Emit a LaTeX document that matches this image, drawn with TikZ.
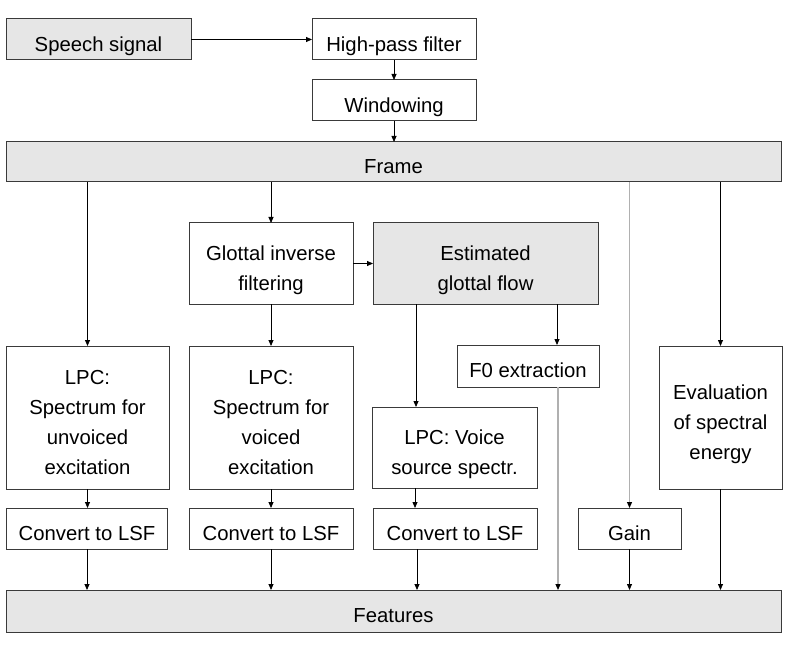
\documentclass[tikz,border=0pt]{standalone}
\usepackage{fontspec}
\setmainfont{Liberation Sans}
\usetikzlibrary{arrows.meta,calc}
\definecolor{boxfill}{HTML}{E6E6E6}
\definecolor{boxline}{HTML}{3A3A3A}
\definecolor{lightline}{HTML}{B0B0B0}
\newcommand\mytopstrut{\rule{0pt}{28.5pt}}
\newcommand\mybotstrut{\rule[-5pt]{0pt}{5pt}}
\begin{document}
\begin{tikzpicture}[x=1pt,y=-1pt,
  box/.style={draw=boxline,line width=1pt,fill=white,rectangle,inner sep=0pt,outer sep=0pt,align=center,
    font=\fontsize{20.3}{30}\selectfont},
  graybox/.style={box,fill=boxfill},
  arr/.style={draw=black,line width=0.8pt,-{Triangle[length=6pt,width=5pt]}},
  garr/.style={draw=lightline,line width=1.2pt,-{Triangle[length=6pt,width=5pt,color=black]}}]
\useasboundingbox (0,0) rectangle (790,647);
% nodes
\node[graybox,minimum width=185pt,minimum height=41pt] (speech) at (98.5,39.5) {\mytopstrut Speech signal\mybotstrut};
\node[box,minimum width=164pt,minimum height=41pt] (hpf) at (394,39.5) {\mytopstrut High-pass filter\mybotstrut};
\node[box,minimum width=164pt,minimum height=41pt] (win) at (394,100.5) {\mytopstrut Windowing\mybotstrut};
\node[graybox,minimum width=775pt,minimum height=40pt] (frame) at (393.5,162) {\mytopstrut Frame\mybotstrut};
\node[box,minimum width=164pt,minimum height=81pt] (glottal) at (271,263.5) {\mytopstrut Glottal inverse\\filtering\mybotstrut};
\node[graybox,minimum width=225pt,minimum height=81pt] (est) at (485.5,263.5) {\mytopstrut Estimated\\glottal flow\mybotstrut};
\node[box,minimum width=163pt,minimum height=143pt] (lpcu) at (87.5,417.5) {\mytopstrut LPC:\\Spectrum for\\unvoiced\\excitation\mybotstrut};
\node[box,minimum width=164pt,minimum height=143pt] (lpcv) at (271,417.5) {\mytopstrut LPC:\\Spectrum for\\voiced\\excitation\mybotstrut};
\node[box,minimum width=142pt,minimum height=42pt] (f0) at (528,366) {\mytopstrut F0 extraction\mybotstrut};
\node[box,minimum width=165pt,minimum height=81pt] (lpcs) at (454.5,447.5) {\mytopstrut LPC: Voice\\source spectr.\mybotstrut};
\node[box,minimum width=123pt,minimum height=143pt] (eval) at (720.5,417.5) {\mytopstrut Evaluation\\of spectral\\energy\mybotstrut};
\node[box,minimum width=161pt,minimum height=41pt] (conv1) at (87,528.5) {\mytopstrut Convert to LSF\mybotstrut};
\node[box,minimum width=164pt,minimum height=41pt] (conv2) at (271,528.5) {\mytopstrut Convert to LSF\mybotstrut};
\node[box,minimum width=164pt,minimum height=41pt] (conv3) at (455,528.5) {\mytopstrut Convert to LSF\mybotstrut};
\node[box,minimum width=103pt,minimum height=41pt] (gain) at (629.5,528.5) {\mytopstrut Gain\mybotstrut};
\node[graybox,minimum width=775pt,minimum height=42pt] (feat) at (393.5,611) {\mytopstrut Features\mybotstrut};
% connectors
\draw[arr] (speech.east) -- (hpf.west);
\draw[arr] (hpf.south) -- (win.north);
\draw[arr] (win.south) -- (win.south |- frame.north);
\draw[arr] (lpcu.north |- frame.south) -- (lpcu.north);
\draw[arr] (glottal.north |- frame.south) -- (glottal.north);
\draw[arr] (glottal.east) -- (est.west);
\draw[arr] (glottal.south) -- (lpcv.north);
\draw[arr] ($(est.south west)+(43,0)$) -- ($(lpcs.north west)+(44,0)$);
\draw[arr] ($(est.south east)+(-41,0)$) -- ($(f0.north east)+(-42,0)$);
\draw[garr] (gain.north |- frame.south) -- (gain.north);
\draw[arr] (eval.north |- frame.south) -- (eval.north);
\draw[arr] (lpcu.south) -- (lpcu.south |- conv1.north);
\draw[arr] (lpcv.south) -- (conv2.north);
\draw[arr] ($(lpcs.south west)+(43,0)$) -- ($(conv3.north west)+(42,0)$);
\draw[arr] (conv1.south) -- (conv1.south |- feat.north);
\draw[arr] (conv2.south) -- (conv2.south |- feat.north);
\draw[arr] ($(conv3.south west)+(44,0)$) -- ($(conv3.south west |- feat.north)+(44,0)$);
\draw[garr] ($(f0.south east)+(-41,0)$) -- ($(f0.south east |- feat.north)+(-41,0)$);
\draw[arr] (gain.south) -- (gain.south |- feat.north);
\draw[arr] (eval.south) -- (eval.south |- feat.north);
\end{tikzpicture}
\end{document}
